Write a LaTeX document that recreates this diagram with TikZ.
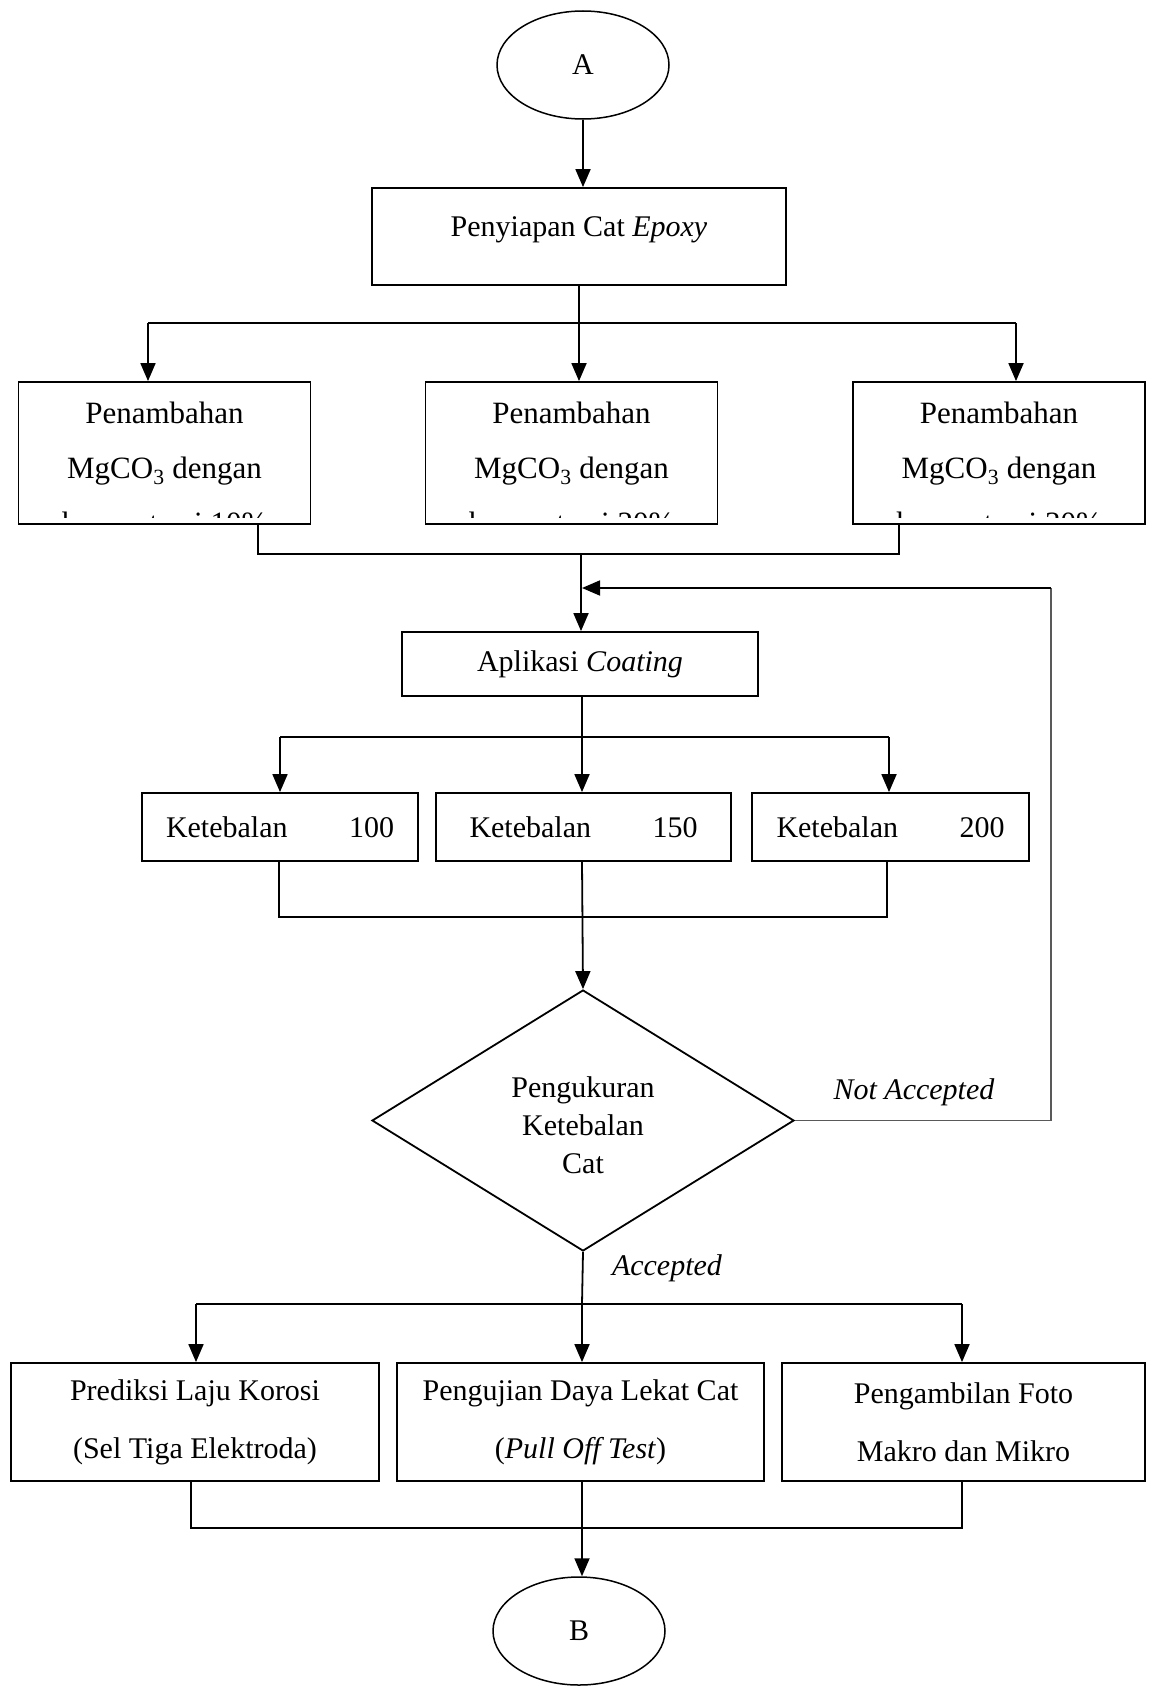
\documentclass[tikz,border=0pt]{standalone}
\usepackage{fontspec}
\setmainfont{Liberation Serif}
\usetikzlibrary{arrows.meta,shapes.geometric}
\newcommand\penfont{\fontsize{31pt}{55pt}\selectfont}
\tikzset{arw/.style={line width=1.8pt, -{Triangle[length=18pt,width=15pt]}},
  wire/.style={line width=1.8pt},
  back/.style={draw=black!65, line width=1.3pt},
  bx/.style={draw, line width=1.8pt, inner sep=0pt, align=center},
  term/.style={draw, ellipse, line width=1.5pt, minimum width=172pt, minimum height=108pt},
  addbox/.style={bx, minimum width=292pt, minimum height=142pt, font=\penfont, text depth=25.5pt,
    path picture={\clip ([yshift=6.5pt]path picture bounding box.south west) rectangle (path picture bounding box.north east);
      \node[anchor=base, inner sep=0pt, font=\penfont] at ([yshift=-9.5pt]path picture bounding box.south)
        {konsentrasi #1\%};}},
  testbox/.style={bx, minimum height=118pt, font=\fontsize{30pt}{58pt}\selectfont}}

\begin{document}
\begin{tikzpicture}[x=1pt, y=-1pt, font=\fontsize{30pt}{38pt}\selectfont]
  \useasboundingbox (0,0) rectangle (1155,1686);
  \node[term] (A) at (583,65) {A};
  \node[bx, minimum width=414pt, minimum height=97pt, text depth=20pt] (prep) at (579,236.5) {Penyiapan Cat \textit{Epoxy}};
  \node[addbox=10] (add1) at (164.5,453) {Penambahan\\MgCO\textsubscript{3} dengan};
  \node[addbox=20] (add2) at (571.5,453) {Penambahan\\MgCO\textsubscript{3} dengan};
  \node[addbox=30] (add3) at (999,453) {Penambahan\\MgCO\textsubscript{3} dengan};
  \node[bx, minimum width=356pt, minimum height=64pt] (coat) at (580,664) {Aplikasi \textit{Coating}};
  \node[bx, minimum width=276pt, minimum height=68pt] (thk1) at (280,827) {\makebox[228pt]{Ketebalan\hfill 100}};
  \node[bx, minimum width=295pt, minimum height=68pt] (thk2) at (583.5,827) {\makebox[228pt]{Ketebalan\hfill 150}};
  \node[bx, minimum width=277pt, minimum height=68pt] (thk3) at (890.5,827) {\makebox[228pt]{Ketebalan\hfill 200}};
  \node[draw, diamond, line width=1.8pt, minimum width=422pt, minimum height=261pt, inner sep=0pt, align=center] (meas) at (583,1120.5) {\rule{0pt}{29.5pt}Pengukuran\\Ketebalan\\Cat};
  \node (nacc) at (914,1092) {\textit{Not Accepted}};
  \node (acc) at (667,1268) {\textit{Accepted}};
  \node[testbox, minimum width=368pt] (corr) at (195,1422) {Prediksi Laju Korosi\\(Sel Tiga Elektroda)};
  \node[testbox, minimum width=367pt] (adh) at (580.5,1422) {Pengujian Daya Lekat Cat\\(\textit{Pull Off Test})};
  \node[testbox, minimum width=363pt] (foto) at (963.5,1422) {Pengambilan Foto\\Makro dan Mikro};
  \node[term] (B) at (579,1631) {B};

  \coordinate (s1) at (148,323);
  \coordinate (s2) at (579,323);
  \coordinate (s3) at (1016,323);
  \coordinate (j1) at (581,554);
  \coordinate (r1) at (582,588);
  \coordinate (r2) at (1051,588);
  \coordinate (s4) at (280,737);
  \coordinate (s5) at (582,737);
  \coordinate (s6) at (889,737);
  \coordinate (j2) at (582,917);
  \coordinate (s7) at (196,1304);
  \coordinate (s8) at (582,1304);
  \coordinate (s9) at (962,1304);
  \coordinate (j3) at (582,1528);

  \draw[arw] (A.south) -- (A.south |- prep.north);
  \draw[wire] (prep.south -| s2) -- (s2);
  \draw[wire] (s1) -- (s3);
  \draw[arw] (s1) -- (s1 |- add1.north);
  \draw[arw] (s2) -- (s2 |- add2.north);
  \draw[arw] (s3) -- (s3 |- add3.north);
  \draw[wire] (add1.south -| 258,0) |- (j1) -| (add3.south -| 899,0);
  \draw[arw] (j1) -- (j1 |- coat.north);
  \draw[back] (meas.east) -| (r2);
  \draw[arw] (r2) -- (r1);
  \draw[wire] (coat.south -| s5) -- (s5);
  \draw[wire] (s4) -- (s6);
  \draw[arw] (s4) -- (s4 |- thk1.north);
  \draw[arw] (s5) -- (s5 |- thk2.north);
  \draw[arw] (s6) -- (s6 |- thk3.north);
  \draw[wire] (thk1.south -| 279,0) |- (j2) -| (thk3.south -| 887,0);
  \draw[arw] (thk2.south -| j2) -- (meas.north);
  \draw[wire] (meas.south) -- (s8);
  \draw[wire] (s7) -- (s9);
  \draw[arw] (s7) -- (s7 |- corr.north);
  \draw[arw] (s8) -- (s8 |- adh.north);
  \draw[arw] (s9) -- (s9 |- foto.north);
  \draw[wire] (corr.south -| 191,0) |- (j3) -| (foto.south -| 962,0);
  \draw[arw] (adh.south -| j3) -- (j3 |- B.north);
\end{tikzpicture}
\end{document}
